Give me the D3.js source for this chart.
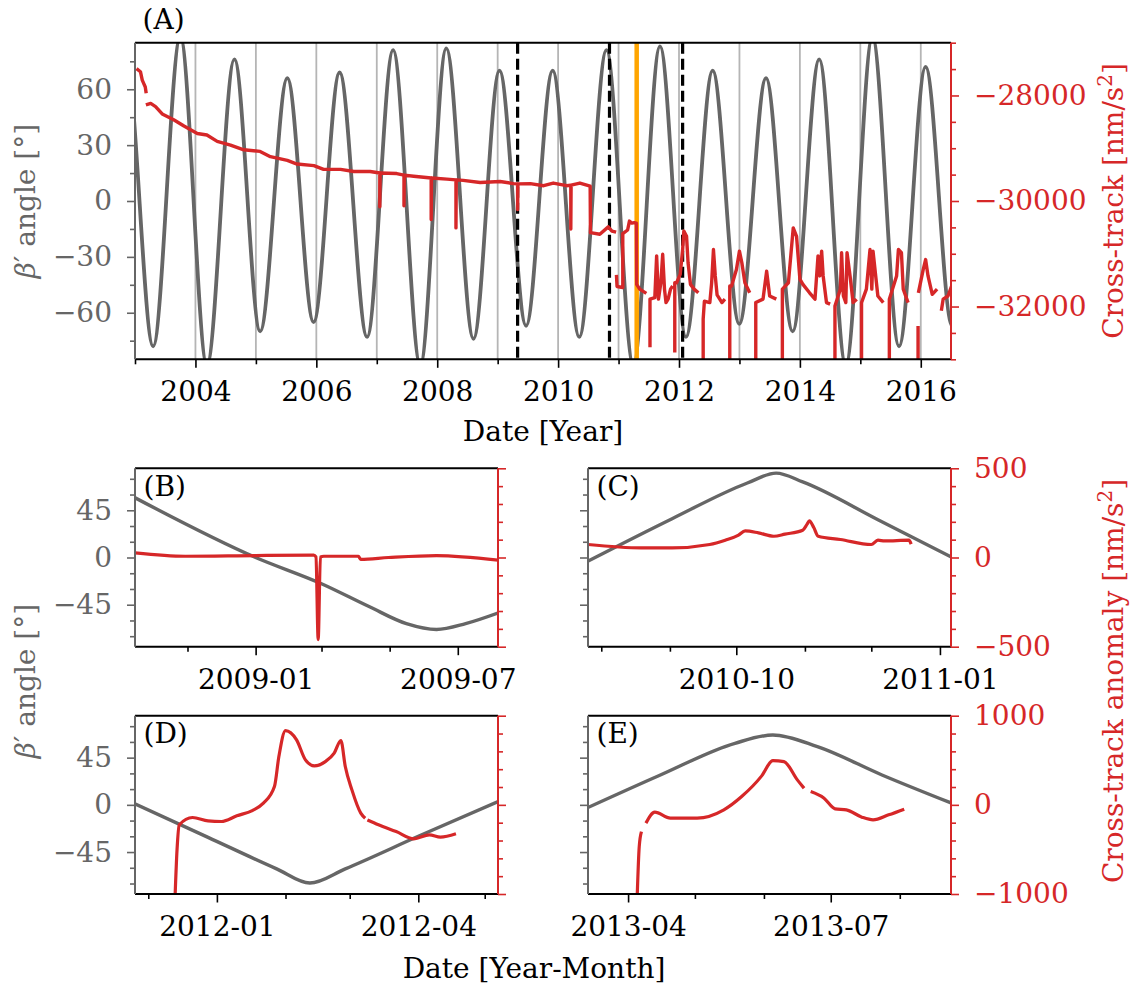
<!DOCTYPE html>
<html lang="en">
<head>
<meta charset="utf-8">
<title>beta prime angle and cross-track</title>
<script src="https://cdn.jsdelivr.net/npm/d3@7"></script>
<style>
  body { margin: 0; background: #fff; }
  svg text { font-family: "DejaVu Serif", serif; }
</style>
</head>
<body>
<div id="fig"></div>
<script>
// ---------- data ----------
// panel A : beta' angle extremes [year, deg]
const betaA = [[2002.42,-75],[2002.855,75],[2003.30,-78],[2003.75,88],[2004.19,-88],[2004.645,76],[2005.07,-70],[2005.52,66],
  [2005.955,-65],[2006.385,69],[2006.84,-73],[2007.27,81],[2007.72,-88],[2008.15,82],[2008.60,-74],[2009.03,70],
  [2009.47,-67],[2009.91,70],[2010.35,-73],[2010.80,81],[2011.245,-88],[2011.686,83],[2012.115,-73],[2012.557,70],
  [2012.997,-66],[2013.44,66],[2013.88,-70],[2014.32,76],[2014.76,-88],[2015.20,88],[2015.64,-78],[2016.08,72],
  [2016.52,-67],[2016.96,75]];

// panel A : cross-track acceleration [year, nm/s^2], null = gap
const crossA = [[2003.025,-27490],[2003.09,-27550],[2003.12,-27710],[2003.17,-27840],[2003.185,-27960],[2003.185,null],
  [2003.18,-28180],[2003.26,-28150],[2003.34,-28210],[2003.45,-28350],[2003.64,-28460],[2003.81,-28580],[2004.03,-28720],
  [2004.19,-28750],[2004.36,-28870],[2004.58,-28940],[2004.80,-29030],[2005.07,-29060],[2005.24,-29160],[2005.52,-29230],
  [2005.68,-29300],[2005.96,-29330],[2006.12,-29400],[2006.40,-29400],[2006.62,-29440],[2006.89,-29440],
  [2007.05,-29470],[2007.05,-30110],[2007.055,-29470],[2007.33,-29480],
  [2007.45,-29510],[2007.45,-30090],[2007.455,-29510],[2007.61,-29530],
  [2007.90,-29565],[2007.90,-30350],[2007.905,-29565],[2008.16,-29585],
  [2008.31,-29600],[2008.31,-30510],[2008.315,-29600],[2008.43,-29610],[2008.71,-29650],[2009.04,-29630],[2009.26,-29670],
  [2009.33,-29675],[2009.33,-30160],[2009.335,-29675],[2009.54,-29670],[2009.76,-29710],[2009.92,-29660],[2010.14,-29710],
  [2010.21,-29700],[2010.21,-30530],[2010.215,-29700],[2010.36,-29660],[2010.53,-29720],
  [2010.535,-30600],[2010.69,-30630],[2010.83,-30490],[2010.89,-30570],[2010.96,-30590],[2010.96,null],
  [2010.965,-31400],[2010.975,-31620],[2011.07,-31640],[2011.07,-30620],[2011.15,-30550],[2011.18,-30380],[2011.22,-30420],
  [2011.26,-30410],[2011.295,-30420],[2011.30,-31580],[2011.35,-31670],[2011.46,-31750],[2011.46,null],
  [2011.52,-32770],[2011.52,-31860],[2011.60,-31830],[2011.63,-31040],[2011.66,-31860],[2011.70,-31550],[2011.73,-31010],
  [2011.76,-31670],[2011.785,-31925],[2011.82,-31860],[2011.86,-31670],[2011.895,-31610],[2011.895,null],
  [2011.93,-32870],[2011.93,-31550],[2011.96,-31550],[2012.02,-31390],[2012.06,-30920],[2012.08,-30570],[2012.125,-30670],
  [2012.15,-31170],[2012.19,-31580],[2012.25,-31670],[2012.32,-31740],[2012.32,null],
  [2012.40,-34000],[2012.40,-32240],[2012.42,-31900],[2012.51,-31925],[2012.54,-31550],[2012.57,-30920],[2012.60,-31420],
  [2012.63,-31780],[2012.71,-31925],[2012.76,-31860],[2012.76,null],
  [2012.84,-34000],[2012.84,-31610],[2012.87,-31610],[2012.95,-31300],[2013.00,-30950],[2013.04,-31170],[2013.09,-31550],
  [2013.17,-31740],[2013.17,null],
  [2013.27,-34000],[2013.27,-31925],[2013.39,-31860],[2013.45,-31330],[2013.50,-31800],[2013.61,-31860],[2013.61,null],
  [2013.71,-34000],[2013.71,-31670],[2013.81,-31550],[2013.89,-30510],[2013.945,-30670],[2014.00,-31480],[2014.05,-31580],
  [2014.16,-31740],[2014.25,-31860],[2014.30,-31040],[2014.33,-31420],[2014.36,-30950],[2014.385,-31420],[2014.44,-31925],
  [2014.50,-31955],[2014.50,null],
  [2014.58,-34000],[2014.58,-31990],[2014.67,-31670],[2014.69,-30980],[2014.72,-31800],[2014.76,-31925],[2014.78,-30980],
  [2014.83,-31420],[2014.88,-31925],[2014.94,-31860],[2014.94,null],
  [2015.02,-34000],[2015.02,-31925],[2015.10,-31670],[2015.16,-30920],[2015.19,-31670],[2015.21,-30950],[2015.29,-31800],
  [2015.38,-31925],[2015.38,null],
  [2015.48,-34000],[2015.48,-31860],[2015.60,-31420],[2015.63,-30920],[2015.68,-30980],[2015.71,-31670],[2015.79,-31925],
  [2015.79,null],
  [2015.955,-34000],[2015.955,-32370],[2015.955,null],
  [2015.96,-31740],[2016.04,-31300],[2016.08,-31110],[2016.12,-31420],[2016.19,-31770],[2016.27,-31670],[2016.27,null],
  [2016.34,-32080],[2016.37,-31860],[2016.45,-31800],[2016.53,-31550]];

const dashedYears = [2009.33, 2010.85, 2012.06];
const orangeYears = [2011.30];
const gridYears = d3.range(2004, 2017);
const yearMajor = [2004, 2006, 2008, 2010, 2012, 2014, 2016];
const yearMinor = [2003, 2005, 2007, 2009, 2011, 2013, 2015];

// panels B-E : [date, value]
const betaB = [["2008-09-14",57.5],["2009-01-01",0],["2009-03-01",-25],["2009-04-13",-47],["2009-05-16",-63],
  ["2009-06-12",-68.6],["2009-07-08",-63],["2009-08-07",-52.5]];
const crossB = [["2008-09-15",26],["2008-10-30",7],["2009-01-01",11],["2009-02-22",13],["2009-02-24",3],["2009-02-26",-460],
  ["2009-02-28",3],["2009-03-03",7],["2009-04-03",7],["2009-04-05",-10],["2009-04-30",0],["2009-06-12",11],["2009-08-06",-15]];

const betaC = [["2010-07-25",-4.5],["2010-09-02",37],["2010-10-06",71],["2010-10-19",80.4],["2010-10-31",72],
  ["2010-12-04",36],["2011-01-07",-0.5]];
const crossC = [["2010-07-26",73],["2010-08-19",54],["2010-09-02",54],["2010-09-19",73],["2010-09-26",97],["2010-10-02",125],
  ["2010-10-05",149],["2010-10-11",138],["2010-10-18",119],["2010-10-23",131],["2010-10-31",153],["2010-11-02",187],
  ["2010-11-03",205],["2010-11-05",168],["2010-11-07",119],["2010-11-17",101],["2010-12-01",73],["2010-12-04",97],
  ["2010-12-07",93],["2010-12-18",97],["2010-12-19",75]];

const betaD = [["2011-11-24",2],["2011-12-28",-31],["2012-01-28",-61],["2012-02-12",-74.5],["2012-02-28",-61],
  ["2012-04-01",-30],["2012-05-08",4]];
const crossD = [["2011-12-13",-1100],["2011-12-14",-500],["2011-12-15",-224],["2011-12-21",-142],["2011-12-28",-180],
  ["2012-01-03",-187],["2012-01-10",-123],["2012-01-17",-64],["2012-01-22",19],["2012-01-27",205],["2012-01-29",542],
  ["2012-02-01",833],["2012-02-06",729],["2012-02-10",505],["2012-02-14",437],["2012-02-19",485],["2012-02-23",580],
  ["2012-02-26",721],["2012-02-28",430],["2012-03-02",168],["2012-03-06",-93],["2012-03-08",-150],["2012-03-08",null],
  ["2012-03-09",-170],["2012-03-14",-224],["2012-03-22",-300],["2012-03-30",-381],["2012-04-06",-336],["2012-04-11",-362],
  ["2012-04-18",-325]];

const betaE = [["2013-03-13",-3.5],["2013-04-15",28],["2013-05-19",58.7],["2013-06-05",66.6],["2013-06-25",55.5],
  ["2013-07-24",28.5],["2013-08-25",1]];
const crossE = [["2013-04-05",-1100],["2013-04-06",-470],["2013-04-07",-300],["2013-04-07",null],["2013-04-09",-205],
  ["2013-04-13",-82],["2013-04-20",-149],["2013-05-02",-149],["2013-05-14",-56],["2013-05-22",93],["2013-05-31",325],
  ["2013-06-05",497],["2013-06-10",485],["2013-06-16",280],["2013-06-19",187],["2013-06-19",null],["2013-06-22",149],
  ["2013-06-28",75],["2013-07-03",-45],["2013-07-08",-56],["2013-07-15",-138],["2013-07-20",-168],["2013-07-27",-112],
  ["2013-08-03",-48]];

// ---------- drawing ----------
const GRAY = "#666666", RED = "#d62728", FS = 28, FONT = "'DejaVu Serif', serif";
const parseDay = d3.utcParse("%Y-%m-%d");
const ymFmt = d3.utcFormat("%Y-%m");

var svg = d3.select("#fig").append("svg").attr("width", 1146).attr("height", 987)
  .style("display", "block").style("font-family", FONT);
svg.append("rect").attr("width", 1146).attr("height", 987).attr("fill", "#fff");
var clipCount = 0;

function addAxis(g, gen, scale, vals, len, pad, fmt, lineCol, textCol, tx, ty) {
  let ax = gen(scale).tickValues(vals).tickSizeInner(len).tickSizeOuter(0).tickPadding(pad)
    .tickFormat(fmt ? fmt : () => "");
  let ag = g.append("g").attr("transform", `translate(${tx},${ty})`).call(ax);
  ag.select(".domain").remove();
  ag.attr("font-family", null).attr("font-size", FS);
  ag.selectAll(".tick line").attr("stroke", lineCol).attr("stroke-width", 1.6);
  ag.selectAll(".tick text").attr("fill", textCol).style("font-family", FONT);
  return ag;
}

function makePanel(p) {
  let g = svg.append("g");
  let x = p.x.range([p.left, p.right]);
  let yL = d3.scaleLinear().domain(p.yL).range([p.bottom, p.top]);
  let yR = d3.scaleLinear().domain(p.yR).range([p.bottom, p.top]);
  let id = "clip" + (clipCount++);
  svg.append("clipPath").attr("id", id).append("rect")
    .attr("x", p.left).attr("y", p.top).attr("width", p.right - p.left).attr("height", p.bottom - p.top);
  let plot = g.append("g").attr("clip-path", `url(#${id})`);
  return { g: g, plot: plot, x: x, yL: yL, yR: yR, p: p };
}

function finishPanel(P, o) {
  let p = P.p, g = P.g;
  // ticks
  addAxis(g, d3.axisBottom, P.x, o.xMinor, 5, 14, null, "#000", "#000", 0, p.bottom);
  addAxis(g, d3.axisBottom, P.x, o.xMajor, 8.5, 13.5, o.xFmt, "#000", "#000", 0, p.bottom);
  addAxis(g, d3.axisLeft, P.yL, o.lMinor, 5, 15, null, GRAY, GRAY, p.left, 0);
  addAxis(g, d3.axisLeft, P.yL, o.lMajor, 8, 15, o.lFmt, GRAY, GRAY, p.left, 0);
  addAxis(g, d3.axisRight, P.yR, o.rMinor, 5, 15, null, RED, RED, p.right, 0);
  addAxis(g, d3.axisRight, P.yR, o.rMajor, 8, 15, o.rFmt, RED, RED, p.right, 0);
  // spines
  g.append("line").attr("x1", p.left).attr("x2", p.right).attr("y1", p.top).attr("y2", p.top).attr("stroke", "#000").attr("stroke-width", 2);
  g.append("line").attr("x1", p.left).attr("x2", p.right).attr("y1", p.bottom).attr("y2", p.bottom).attr("stroke", "#000").attr("stroke-width", 2);
  g.append("line").attr("x1", p.left).attr("x2", p.left).attr("y1", p.top).attr("y2", p.bottom).attr("stroke", GRAY).attr("stroke-width", 2);
  g.append("line").attr("x1", p.right).attr("x2", p.right).attr("y1", p.top).attr("y2", p.bottom).attr("stroke", RED).attr("stroke-width", 2);
  g.append("text").attr("x", p.left + p.letterDx).attr("y", p.top + p.letterDy).attr("font-size", FS)
    .style("font-family", FONT).attr("fill", "#000").text(p.letter);
}

const intFmt = d3.format("d");

// ----- panel A -----
var A = makePanel({ left: 135, right: 951, top: 42.7, bottom: 359.3, letter: "(A)", letterDx: 7.5, letterDy: -14,
  x: d3.scaleLinear().domain([2003, 2016.5]), yL: [-85, 85], yR: [-33000, -27000] });

A.plot.selectAll(".grid").data(gridYears).join("line").attr("class", "grid")
  .attr("x1", d => A.x(d)).attr("x2", d => A.x(d)).attr("y1", 42.7).attr("y2", 359.3)
  .attr("stroke", "#b5b5b5").attr("stroke-width", 1.8);

A.plot.append("path").datum(betaA)
  .attr("d", d3.line().x(d => A.x(d[0])).y(d => A.yL(d[1])).curve(d3.curveMonotoneX))
  .attr("fill", "none").attr("stroke", GRAY).attr("stroke-width", 3.8);

A.plot.selectAll(".dash").data(dashedYears).join("line").attr("class", "dash")
  .attr("x1", d => A.x(d)).attr("x2", d => A.x(d)).attr("y1", 42.7).attr("y2", 359.3)
  .attr("stroke", "#000").attr("stroke-width", 3.2).attr("stroke-dasharray", "11,5");

A.plot.selectAll(".orange").data(orangeYears).join("line").attr("class", "orange")
  .attr("x1", d => A.x(d)).attr("x2", d => A.x(d)).attr("y1", 42.7).attr("y2", 359.3)
  .attr("stroke", "#ffa500").attr("stroke-width", 4.5);

A.plot.append("path").datum(crossA)
  .attr("d", d3.line().defined(d => d[1] !== null).x(d => A.x(d[0])).y(d => A.yR(d[1])))
  .attr("fill", "none").attr("stroke", RED).attr("stroke-width", 3.4).attr("stroke-linejoin", "round");

finishPanel(A, {
  xMinor: yearMinor, xMajor: yearMajor, xFmt: intFmt,
  lMinor: [-75, -45, -15, 15, 45, 75], lMajor: [-60, -30, 0, 30, 60], lFmt: intFmt,
  rMinor: d3.range(-33000, -26999, 500).filter(v => v % 2000 !== 0), rMajor: [-32000, -30000, -28000], rFmt: intFmt
});

// ----- panels B-E -----
function smallPanel(box, dom, beta, cross, yR, ticks, showL, showR) {
  let P = makePanel({ left: box[0], right: box[1], top: box[2], bottom: box[3], letter: box[4], letterDx: 8.5, letterDy: 27.5,
    x: d3.scaleUtc().domain(dom.map(parseDay)), yL: [-85, 85], yR: yR });
  P.plot.append("path").datum(beta)
    .attr("d", d3.line().x(d => P.x(parseDay(d[0]))).y(d => P.yL(d[1])).curve(d3.curveMonotoneX))
    .attr("fill", "none").attr("stroke", GRAY).attr("stroke-width", 3.4);
  P.plot.append("path").datum(cross)
    .attr("d", d3.line().defined(d => d[1] !== null).x(d => P.x(parseDay(d[0]))).y(d => P.yR(d[1])).curve(d3.curveMonotoneX))
    .attr("fill", "none").attr("stroke", RED).attr("stroke-width", 3.2).attr("stroke-linejoin", "round");
  let rStep = yR[1] / 5;
  finishPanel(P, {
    xMinor: ticks[0].map(parseDay), xMajor: ticks[1].map(parseDay), xFmt: ymFmt,
    lMinor: [-75, -60, -30, -15, 15, 30, 60, 75], lMajor: [-45, 0, 45], lFmt: showL ? intFmt : null,
    rMinor: d3.range(-4, 5).filter(k => k !== 0).map(k => k * rStep), rMajor: [yR[0], 0, yR[1]], rFmt: showR ? intFmt : null
  });
}

smallPanel([135, 498, 468.3, 646.7, "(B)"], ["2008-09-15", "2009-08-06"], betaB, crossB, [-500, 500],
  [["2008-11-01", "2009-03-01", "2009-05-01"], ["2009-01-01", "2009-07-01"]], true, false);
smallPanel([588, 951, 468.3, 646.7, "(C)"], ["2010-07-26", "2011-01-06"], betaC, crossC, [-500, 500],
  [["2010-08-01", "2010-09-01", "2010-11-01", "2010-12-01"], ["2010-10-01", "2011-01-01"]], false, true);
smallPanel([135, 498, 715.7, 894, "(D)"], ["2011-11-25", "2012-05-07"], betaD, crossD, [-1000, 1000],
  [["2011-12-01", "2012-02-01", "2012-03-01", "2012-05-01"], ["2012-01-01", "2012-04-01"]], true, false);
smallPanel([588, 951, 715.7, 894, "(E)"], ["2013-03-14", "2013-08-24"], betaE, crossE, [-1000, 1000],
  [["2013-05-01", "2013-06-01", "2013-08-01"], ["2013-04-01", "2013-07-01"]], false, true);

// ---------- axis titles ----------
function betaLabel(cx, cy) {
  let t = svg.append("text").attr("transform", `translate(${cx},${cy}) rotate(-90)`).style("font-family", FONT)
    .attr("text-anchor", "middle").attr("font-size", FS).attr("fill", GRAY);
  t.append("tspan").attr("font-style", "italic").text("β");
  t.append("tspan").text("′ angle [°]");
}
function crossLabel(cx, cy, txt) {
  let t = svg.append("text").attr("transform", `translate(${cx},${cy}) rotate(-90)`).style("font-family", FONT)
    .attr("text-anchor", "middle").attr("font-size", FS).attr("fill", RED);
  t.append("tspan").text(txt + " [nm/s");
  t.append("tspan").attr("font-size", 20).attr("dy", -11).text("2");
  t.append("tspan").attr("dy", 11).text("]");
}

betaLabel(35, 201);
crossLabel(1123, 201, "Cross-track");
betaLabel(35, 681);
crossLabel(1123, 681, "Cross-track anomaly");

svg.append("text").attr("x", 543).attr("y", 441).attr("text-anchor", "middle").style("font-family", FONT)
  .attr("font-size", FS).attr("fill", "#000").text("Date [Year]");
svg.append("text").attr("x", 534).attr("y", 978).attr("text-anchor", "middle").style("font-family", FONT)
  .attr("font-size", FS).attr("fill", "#000").text("Date [Year-Month]");
</script>
</body>
</html>
